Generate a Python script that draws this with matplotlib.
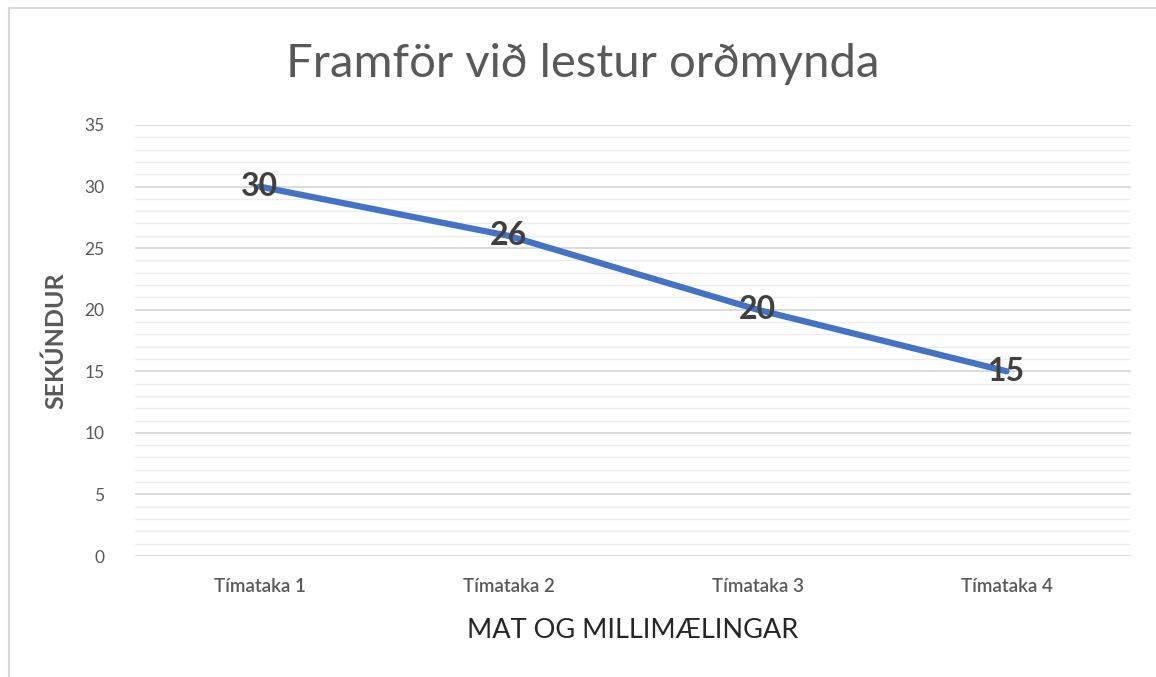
import numpy as np
import matplotlib.pyplot as plt
from matplotlib.lines import Line2D

# Framför við lestur orðmynda - line chart with data labels

categories = ['Tímataka 1', 'Tímataka 2', 'Tímataka 3', 'Tímataka 4']
seconds = [30, 26, 20, 15]
y_ticks = [0, 5, 10, 15, 20, 25, 30, 35]

plt.rcParams['font.family'] = ['Lato', 'DejaVu Sans']

fig = plt.figure(figsize=(11.56, 6.77), dpi=100)
ax = fig.add_axes([0.1168, 0.1787, 0.8616, 0.6367])

x = np.arange(len(categories))
ax.plot(x, seconds, color='#4472C4', linewidth=4.5, solid_capstyle='round', zorder=3)
for xi, v in zip(x, seconds):
    ax.text(xi, v, str(v), ha='center', va='center', fontsize=23,
            fontweight='bold', color='#404040', zorder=4)

ax.set_xlim(-0.5, len(categories) - 0.5)
ax.set_ylim(0, 35)
ax.set_yticks(y_ticks)
ax.set_yticks(np.arange(0, 36, 1), minor=True)
ax.set_xticks(x)
ax.set_xticklabels(categories, fontweight='semibold')
ax.tick_params(axis='both', length=0, labelcolor='#595959')
ax.tick_params(axis='x', pad=16, labelsize=13.5)
ax.tick_params(axis='y', pad=22, labelsize=12.5)
ax.tick_params(which='minor', length=0)
ax.grid(True, axis='y', which='major', color='#d9d9d9', linewidth=1.3)
ax.grid(True, axis='y', which='minor', color='#ececec', linewidth=1.0)
for s in ax.spines.values():
    s.set_visible(False)

fig.text(0.504, 0.905, 'Framför við lestur orðmynda', ha='center', va='center',
         fontsize=34, color='#595959')
ax.set_ylabel('SEKÚNDUR', fontsize=18, fontweight='bold', color='#595959', labelpad=12)
fig.text(0.547, 0.069, 'MAT OG MILLIMÆLINGAR', ha='center', va='center',
         fontsize=19.5, color='#262626')

# chart frame (top and left edges visible in the reference)
fig.add_artist(Line2D([0.008, 1.0], [0.988, 0.988], color='#d9d9d9', linewidth=1.5))
fig.add_artist(Line2D([0.008, 0.008], [0.0, 0.988], color='#d9d9d9', linewidth=1.5))

fig.savefig('out.png', dpi=100)
